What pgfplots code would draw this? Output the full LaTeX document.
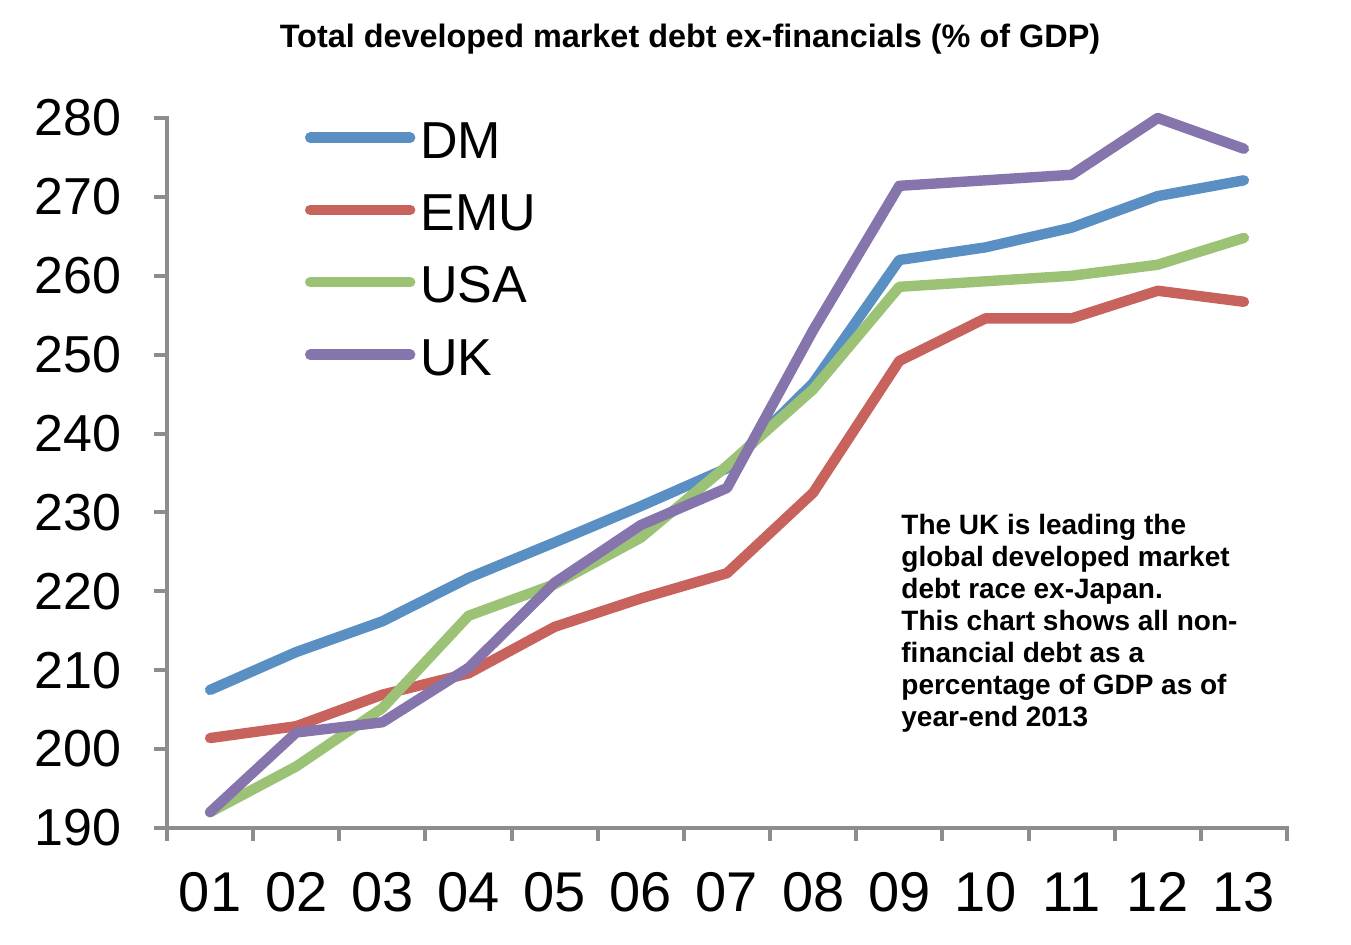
\documentclass[border=0pt]{standalone}
\usepackage{fontspec}
\setmainfont{Liberation Sans}
\usepackage{pgfplots}
\pgfplotsset{compat=1.18}
\definecolor{cDM}{HTML}{5A8FC3}
\definecolor{cEMU}{HTML}{C8625D}
\definecolor{cUSA}{HTML}{9CC375}
\definecolor{cUK}{HTML}{8675AD}
\definecolor{axgray}{HTML}{8C8E8E}
\begin{document}
\begin{tikzpicture}[x=1pt,y=1pt]
\useasboundingbox (-83.5,-58.5) rectangle (592,414);
\begin{axis}[
  at={(0,0)}, anchor=south west,
  width=560pt, height=355pt, scale only axis,
  xmin=0.5, xmax=13.5, ymin=190, ymax=280,
  axis x line*=bottom, axis y line*=left,
  axis line style={draw=axgray, line width=2pt, line cap=rect},
  ytick={190,200,...,280},
  xtick={0.5,1.5,...,13.5}, xticklabels={},
  extra x ticks={1,2,...,13},
  extra x tick labels={01,02,03,04,05,06,07,08,09,10,11,12,13},
  extra x tick style={major tick length=0pt,
     xticklabel style={anchor=base, yshift=-41.8pt, font=\fontsize{28}{32}\selectfont}},
  tick align=outside, major tick length=6.5pt,
  tick style={draw=axgray, line width=2pt},
  yticklabel style={anchor=east, inner sep=0pt, xshift=-16pt, font=\fontsize{26}{30}\selectfont},
  /pgf/number format/assume math mode=true,
  clip=false,
  legend cell align=left,
  legend style={at={(0.1232,0.994)}, anchor=north west, draw=none, fill=none,
     inner sep=0pt, outer sep=0pt, row sep=16.7pt, column sep=2.5pt,
     nodes={inner sep=0pt}, font=\fontsize{26}{30}\selectfont},
  legend image code/.code={\draw[#1, line width=5.2pt, line cap=round] (2.5pt,2pt) -- (52.5pt,2pt);},
  every axis plot/.append style={line width=5.2pt, line join=round, line cap=round},
]
\addplot[cDM] coordinates {(1,207.5) (2,212.3) (3,216.2) (4,221.7) (5,226.2) (6,230.8) (7,235.6) (8,246.4) (9,262.0) (10,263.6) (11,266.1) (12,270.1) (13,272.1)};
\addlegendentry{DM}
\addplot[cEMU] coordinates {(1,201.4) (2,202.9) (3,206.9) (4,209.6) (5,215.5) (6,219.1) (7,222.3) (8,232.5) (9,249.2) (10,254.6) (11,254.6) (12,258.1) (13,256.7)};
\addlegendentry{EMU}
\addplot[cUSA] coordinates {(1,192.0) (2,197.8) (3,205.2) (4,216.9) (5,220.9) (6,226.8) (7,235.9) (8,245.6) (9,258.6) (10,259.3) (11,260.0) (12,261.4) (13,264.8)};
\addlegendentry{USA}
\addplot[cUK] coordinates {(1,192.0) (2,202.1) (3,203.4) (4,210.3) (5,221.1) (6,228.4) (7,233.1) (8,253.1) (9,271.4) (10,272.1) (11,272.8) (12,280.0) (13,276.1)};
\addlegendentry{UK}
\end{axis}
\node[anchor=base, font=\bfseries\fontsize{16.2}{19}\selectfont, inner sep=0pt] at (261.5,390) {Total developed market debt ex-financials (\% of GDP)};
\node[anchor=north west, align=left, inner sep=0pt, font=\bfseries\fontsize{14}{16}\selectfont] at (367,157) {The UK is leading the\\global developed market\\debt race ex-Japan.\\This chart shows all non-\\financial debt as a\\percentage of GDP as of\\year-end 2013};
\end{tikzpicture}
\end{document}
